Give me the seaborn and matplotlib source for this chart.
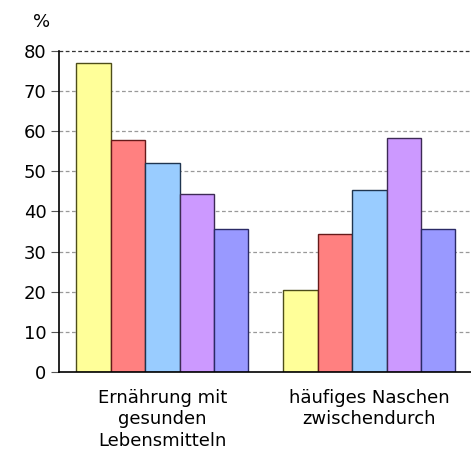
import numpy as np
import matplotlib
matplotlib.use("Agg")
import matplotlib.pyplot as plt
import pandas as pd
import seaborn as sns

# data
categories = ["Ernährung mit\ngesunden\nLebensmitteln", "häufiges Naschen\nzwischendurch"]
series = ["Gruppe 1", "Gruppe 2", "Gruppe 3", "Gruppe 4", "Gruppe 5"]
values_ernaehrung = [76.9, 57.7, 52.0, 44.4, 35.7]
values_naschen = [20.4, 34.3, 45.3, 58.2, 35.7]
fill_colors = ["#FFFF99", "#FF8080", "#99CCFF", "#CC99FF", "#9999FF"]
edge_colors = ["#4D4D1A", "#661A1A", "#1F3550", "#3D2A55", "#2A2A66"]
y_ticks = [0, 10, 20, 30, 40, 50, 60, 70, 80]

df = pd.DataFrame({
    "kategorie": np.repeat(categories, len(series)),
    "serie": series * len(categories),
    "wert": values_ernaehrung + values_naschen,
})

sns.set_style("white")
plt.rcParams["font.family"] = ["DejaVu Sans"]
plt.rcParams["text.color"] = "black"
plt.rcParams["xtick.color"] = "black"
plt.rcParams["ytick.color"] = "black"

fig = plt.figure(figsize=(4.71, 4.54), dpi=100)
ax = fig.add_axes([0.125, 0.1806, 0.879, 0.7071])

sns.barplot(data=df, x="kategorie", y="wert", hue="serie", palette=fill_colors,
            saturation=1, width=0.83, linewidth=1.0, ax=ax, legend=False, zorder=3)
for cont, ec in zip(ax.containers, edge_colors):
    for bar in cont:
        bar.set_edgecolor(ec)

ax.set_xlim(-0.5, 1.5)
ax.set_ylim(0, 80)
ax.set_yticks(y_ticks)
ax.set_yticklabels([str(t) for t in y_ticks], fontsize=13, color="black")
ax.set_xticks([0, 1])
ax.set_xticklabels(categories, fontsize=13, linespacing=1.25, color="black")
ax.tick_params(axis="x", length=0, pad=12)
ax.set_xticks([0.5], minor=True)
ax.tick_params(axis="x", which="minor", length=5, color="#999999", direction="out")
ax.tick_params(axis="y", length=6, color="#555555", direction="out", pad=3, left=True)

for t in y_ticks[1:-1]:
    ax.axhline(t, color="#999999", linestyle=(0, (3, 2)), linewidth=0.9, zorder=1)
ax.axhline(80, color="#333333", linestyle=(0, (3, 2)), linewidth=0.9, zorder=1, clip_on=False)

for side in ["top", "right"]:
    ax.spines[side].set_visible(False)
for side in ["left", "bottom"]:
    ax.spines[side].set_color("black")
    ax.spines[side].set_linewidth(1.2)
    ax.spines[side].set_zorder(4)

ax.set_xlabel("")
ax.set_ylabel("")
fig.text(0.089, 0.952, "%", fontsize=13, ha="center", va="center", color="black")

fig.savefig("out.png", dpi=100)
